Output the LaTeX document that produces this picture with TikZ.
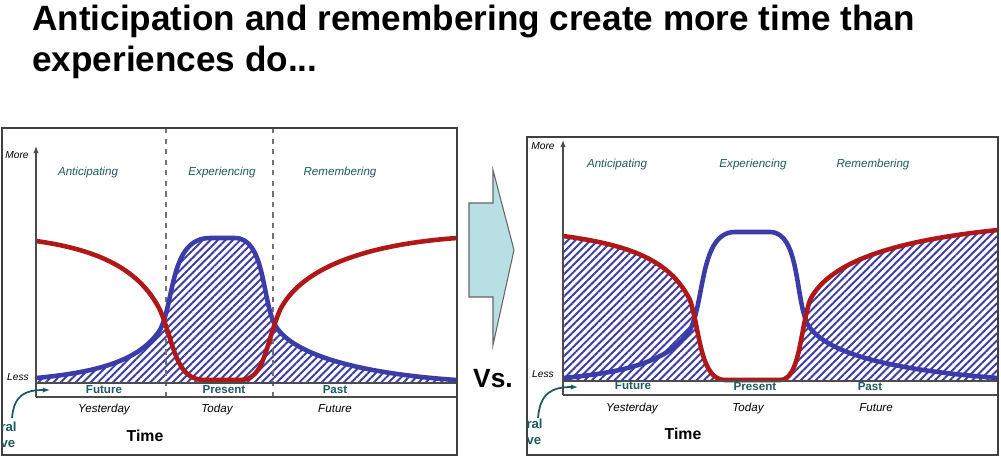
\documentclass[tikz,border=0pt]{standalone}
\usepackage{fontspec}
\setmainfont{Liberation Sans}
\usetikzlibrary{patterns.meta,arrows.meta}
\definecolor{cred}{HTML}{B01818}
\definecolor{cblue}{HTML}{3C3CA8}
\definecolor{cteal}{HTML}{1F5A60}
\definecolor{ccyan}{HTML}{B8E0E4}
\tikzset{
  panel/.style={draw=black!75,line width=0.8pt},
  redc/.style={draw=cred,line width=2.6pt},
  bluec/.style={draw=cblue,line width=2.6pt},
  hatch/.style={pattern={Lines[angle=45,distance=3pt,line width=1.1pt]},pattern color=cblue},
  phase/.style={font=\fontsize{6.6}{7}\selectfont\itshape,text=cteal},
  axlab/.style={font=\fontsize{5.8}{6}\selectfont\itshape},
  band/.style={font=\fontsize{6.6}{7}\selectfont\bfseries,text=cteal},
  when/.style={font=\fontsize{6.6}{7}\selectfont\itshape},
  timel/.style={font=\fontsize{9}{10}\selectfont\bfseries},
  dashv/.style={draw=black!55,dashed,line width=0.6pt},
  ttl/.style={anchor=west,inner sep=0pt,font=\fontsize{20}{24}\selectfont\bfseries},
}
\begin{document}
\begin{tikzpicture}[x=0.02cm,y=-0.02cm]
\useasboundingbox (0,0) rectangle (1001,458);
% title
\node[ttl] (t1) at (32,21) {Anticipation and remembering create more time than};
\node[ttl] (t2) at (32,62) {experiences do...};
% ---------- left panel
\fill[white] (2,128) rectangle (457,455);
\path[hatch] (36,383) -- (36,378) .. controls (100,372) and (140,360) .. (160,330) .. controls (175,300) and (170,238) .. (210,238) -- (235,238) .. controls (265,238) and (262,300) .. (275,325) .. controls (295,360) and (380,375) .. (457,380) -- (457,383) -- cycle;
\draw[dashv] (166,128) -- (166,397);
\draw[dashv] (273,128) -- (273,397);
\draw[bluec] (36,378) .. controls (100,372) and (140,360) .. (160,330) .. controls (175,300) and (170,238) .. (210,238) -- (235,238) .. controls (265,238) and (262,300) .. (275,325) .. controls (295,360) and (380,375) .. (457,380);
\draw[redc] (36,241) .. controls (100,250) and (140,270) .. (160,310) .. controls (175,345) and (175,380) .. (205,380) -- (240,380) .. controls (265,380) and (265,345) .. (280,310) .. controls (300,270) and (360,245) .. (457,238);
\draw[black!70,line width=0.6pt] (36,383) -- (457,383) (36,397) -- (457,397);
\draw[black!70,line width=0.6pt,-{Latex[length=4pt]}] (36,397) -- (36,146);
\draw[panel] (2,128) rectangle (457,455);
\node[axlab] (lm) at (17,155) {More};
\node[axlab] (ll) at (18,377) {Less};
\node[phase] (la) at (88,172) {Anticipating};
\node[phase] (le) at (222,172) {Experiencing};
\node[phase] (lr) at (340,172) {Remembering};
\node[band] (lf) at (104,390) {Future};
\node[band] (lp) at (224,390) {Present};
\node[band] (lpa) at (335,390) {Past};
\node[when] (ly) at (104,409) {Yesterday};
\node[when] (lt) at (217,409) {Today};
\node[when] (lfu) at (335,409) {Future};
\node[timel] (ltm) at (145,436) {Time};
\begin{scope}
\clip (2,128) rectangle (457,455);
\node[band,anchor=east,align=left,inner sep=0pt,font=\fontsize{7.5}{9}\selectfont\bfseries] (lcv) at (17,435) {ral\\ve};
\end{scope}
\coordinate (lc0) at (12,418);
\coordinate (lc1) at (50,390);
\draw[cteal,line width=1pt,-{Latex[length=4pt]}] (lc0) .. controls (14,395) and (25,390) .. (lc1);
% ---------- arrow and Vs.
\draw[fill=ccyan,draw=black!60,line width=0.6pt] (469,203) -- (493,203) -- (493,170) -- (514,250) -- (493,345) -- (493,297) -- (469,297) -- cycle;
\node[font=\fontsize{15}{17}\selectfont\bfseries] (vs) at (493,379) {Vs.};
% ---------- right panel
\fill[white] (527,137) rectangle (998,455);
\path[hatch] (563,380) -- (563,236) .. controls (630,245) and (670,260) .. (690,300) .. controls (700,330) and (700,380) .. (725,380) -- (780,380) .. controls (800,380) and (800,330) .. (810,300) .. controls (830,260) and (900,240) .. (998,230) -- (998,380) -- cycle;
\draw[bluec] (563,378) .. controls (630,372) and (670,360) .. (690,330) .. controls (705,300) and (700,232) .. (735,232) -- (770,232) .. controls (800,232) and (795,300) .. (808,325) .. controls (830,360) and (920,372) .. (998,378);
\draw[redc] (563,236) .. controls (630,245) and (670,260) .. (690,300) .. controls (700,330) and (700,380) .. (725,380) -- (780,380) .. controls (800,380) and (800,330) .. (810,300) .. controls (830,260) and (900,240) .. (998,230);
\draw[black!70,line width=0.6pt] (563,381) -- (998,381) (563,395) -- (998,395);
\draw[black!70,line width=0.6pt,-{Latex[length=4pt]}] (563,395) -- (563,140);
\draw[panel] (527,137) rectangle (998,455);
\node[axlab] (rm) at (543,146) {More};
\node[axlab] (rl) at (543,374) {Less};
\node[phase] (ra) at (617,164) {Anticipating};
\node[phase] (re) at (753,164) {Experiencing};
\node[phase] (rr) at (873,164) {Remembering};
\node[band] (rf) at (633,386) {Future};
\node[band] (rp) at (755,387) {Present};
\node[band] (rpa) at (870,387) {Past};
\node[when] (ry) at (632,408) {Yesterday};
\node[when] (rt) at (748,408) {Today};
\node[when] (rfu) at (876,408) {Future};
\node[timel] (rtm) at (683,434) {Time};
\begin{scope}
\clip (527,137) rectangle (998,455);
\node[band,anchor=east,align=left,inner sep=0pt,font=\fontsize{7.5}{9}\selectfont\bfseries] (rcv) at (543,432) {ral\\ve};
\end{scope}
\coordinate (rc0) at (538,418);
\coordinate (rc1) at (578,387);
\draw[cteal,line width=1pt,-{Latex[length=4pt]}] (rc0) .. controls (540,393) and (552,387) .. (rc1);
\end{tikzpicture}
\end{document}
